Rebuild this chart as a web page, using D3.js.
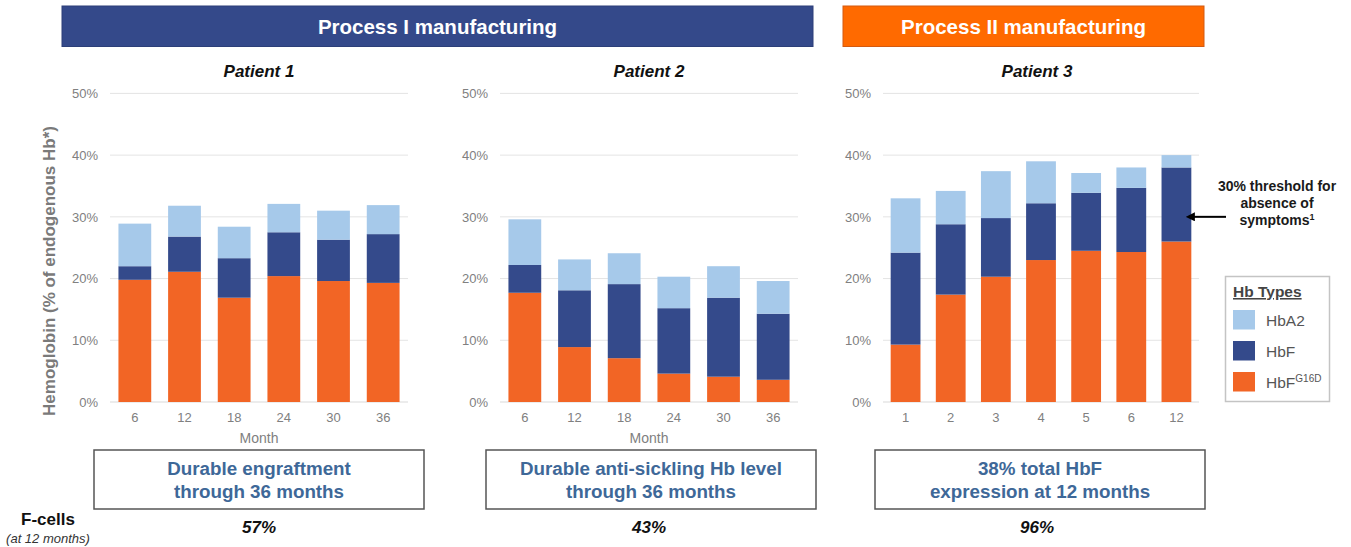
<!DOCTYPE html>
<html>
<head>
<meta charset="utf-8">
<script src="https://cdn.jsdelivr.net/npm/d3@7"></script>
<style>
  html, body { margin: 0; padding: 0; background: #ffffff; }
  svg { display: block; font-family: "Liberation Sans", Arial, Helvetica, sans-serif; }
</style>
</head>
<body>
<svg id="chart" width="1351" height="547"></svg>
<script>
// Hemoglobin composition (% of endogenous Hb) by month, per patient
const p1Months = ["6", "12", "18", "24", "30", "36"];
const p1HbFG16D = [19.8, 21.1, 16.9, 20.4, 19.6, 19.3];
const p1HbF     = [2.2, 5.7, 6.4, 7.1, 6.7, 7.9];
const p1HbA2    = [6.9, 5.0, 5.1, 4.6, 4.7, 4.7];

const p2Months = ["6", "12", "18", "24", "30", "36"];
const p2HbFG16D = [17.7, 8.9, 7.1, 4.6, 4.1, 3.6];
const p2HbF     = [4.5, 9.2, 12.0, 10.6, 12.8, 10.7];
const p2HbA2    = [7.4, 5.0, 5.0, 5.1, 5.1, 5.3];

const p3Months = ["1", "2", "3", "4", "5", "6", "12"];
const p3HbFG16D = [9.3, 17.4, 20.3, 23.0, 24.5, 24.3, 26.0];
const p3HbF     = [14.9, 11.4, 9.5, 9.2, 9.4, 10.4, 12.0];
const p3HbA2    = [8.8, 5.4, 7.6, 6.8, 3.2, 3.3, 2.0];

const yTicks = [0, 10, 20, 30, 40, 50];
const hbTypes = ["HbFG16D", "HbF", "HbA2"];
const patientTitles = ["Patient 1", "Patient 2", "Patient 3"];
const summaryLines = [
  ["Durable engraftment", "through 36 months"],
  ["Durable anti-sickling Hb level", "through 36 months"],
  ["38% total HbF", "expression at 12 months"]
];
const fCells = ["57%", "43%", "96%"];
const thresholdValue = 30;

const colors = { HbFG16D: "#f26525", HbF: "#344a8b", HbA2: "#a6c9ea" };
const tickGray = "#808080";

const svg = d3.select("#chart");

// Section headers
const headers = [
  { text: "Process I manufacturing", x0: 62, x1: 813, fill: "#34498a", stroke: "#2c3f78" },
  { text: "Process II manufacturing", x0: 843, x1: 1204, fill: "#ff6a00", stroke: "#d35a10" }
];
headers.forEach(h => {
  svg.append("rect").attr("x", h.x0).attr("y", 6).attr("width", h.x1 - h.x0).attr("height", 40.5)
    .attr("fill", h.fill).attr("stroke", h.stroke).attr("stroke-width", 1);
  svg.append("text").attr("x", (h.x0 + h.x1) / 2).attr("y", 34)
    .attr("text-anchor", "middle").attr("fill", "#ffffff")
    .attr("font-weight", "bold").attr("font-size", "20.5px").text(h.text);
});

const y = d3.scaleLinear().domain([0, 50]).range([402, 93.4]);

const panels = [
  { months: p1Months, vals: [p1HbFG16D, p1HbF, p1HbA2], x0: 110, x1: 408, titleX: 259, showMonth: true },
  { months: p2Months, vals: [p2HbFG16D, p2HbF, p2HbA2], x0: 500, x1: 798, titleX: 649, showMonth: true },
  { months: p3Months, vals: [p3HbFG16D, p3HbF, p3HbA2], x0: 883, x1: 1199, titleX: 1037, showMonth: false }
];

panels.forEach((p, i) => {
  const g = svg.append("g");
  const x = d3.scaleBand().domain(p.months).range([p.x0, p.x1])
    .paddingInner(0.34).paddingOuter(0.17);

  // gridlines
  g.selectAll("line.grid").data(yTicks).join("line")
    .attr("x1", p.x0).attr("x2", p.x1)
    .attr("y1", d => y(d)).attr("y2", d => y(d))
    .attr("stroke", d => d === 0 ? "#d9d9d9" : "#e4e4e4").attr("stroke-width", 1);

  // y tick labels
  const yAxis = d3.axisLeft(y).tickValues(yTicks).tickFormat(d => d + "%").tickSize(0).tickPadding(12);
  const ya = g.append("g").attr("transform", `translate(${p.x0},0)`).call(yAxis);
  ya.select(".domain").remove();
  ya.selectAll("text").attr("fill", tickGray).attr("font-size", "13px")
    .attr("font-family", "Liberation Sans, Arial, sans-serif");

  // x tick labels
  const xAxis = d3.axisBottom(x).tickSize(0).tickPadding(11);
  const xa = g.append("g").attr("transform", `translate(0,${y(0)})`).call(xAxis);
  xa.select(".domain").remove();
  xa.selectAll("text").attr("fill", tickGray).attr("font-size", "13px")
    .attr("font-family", "Liberation Sans, Arial, sans-serif");

  // stacked bars
  const rows = p.months.map((m, j) => ({ month: m, HbFG16D: p.vals[0][j], HbF: p.vals[1][j], HbA2: p.vals[2][j] }));
  const series = d3.stack().keys(hbTypes)(rows);
  g.selectAll("g.layer").data(series).join("g")
    .attr("fill", d => colors[d.key])
    .selectAll("rect").data(d => d).join("rect")
    .attr("x", d => x(d.data.month))
    .attr("width", x.bandwidth())
    .attr("y", d => y(d[1]))
    .attr("height", d => y(d[0]) - y(d[1]));

  // panel title
  svg.append("text").attr("x", p.titleX).attr("y", 77).attr("text-anchor", "middle")
    .attr("font-weight", "bold").attr("font-style", "italic").attr("font-size", "17px")
    .attr("fill", "#111").text(patientTitles[i]);

  if (p.showMonth) {
    svg.append("text").attr("x", (p.x0 + p.x1) / 2).attr("y", 443).attr("text-anchor", "middle")
      .attr("font-size", "14px").attr("fill", tickGray).text("Month");
  }

  // summary box
  const bx0 = [94, 486, 875][i], bw = 330;
  svg.append("rect").attr("x", bx0).attr("y", 450).attr("width", bw).attr("height", 59)
    .attr("fill", "#fff").attr("stroke", "#555").attr("stroke-width", 1.5);
  summaryLines[i].forEach((t, k) => {
    svg.append("text").attr("x", bx0 + bw / 2).attr("y", 475 + k * 22.5).attr("text-anchor", "middle")
      .attr("font-weight", "bold").attr("font-size", "18.8px").attr("fill", "#3e6898").text(t);
  });

  // F-cell value
  svg.append("text").attr("x", p.titleX).attr("y", 533).attr("text-anchor", "middle")
    .attr("font-weight", "bold").attr("font-style", "italic").attr("font-size", "17px")
    .attr("fill", "#111").text(fCells[i]);
});

// Y-axis title
svg.append("text").attr("transform", `translate(55,271) rotate(-90)`).attr("text-anchor", "middle")
  .attr("font-weight", "bold").attr("font-size", "17px").attr("fill", "#7a7a7a")
  .text("Hemoglobin (% of endogenous Hb*)");

// F-cells row label
svg.append("text").attr("x", 48).attr("y", 525).attr("text-anchor", "middle")
  .attr("font-weight", "bold").attr("font-size", "17px").attr("fill", "#111").text("F-cells");
svg.append("text").attr("x", 48).attr("y", 543).attr("text-anchor", "middle")
  .attr("font-style", "italic").attr("font-size", "13px").attr("fill", "#333").text("(at 12 months)");

// Threshold annotation with arrow
const defs = svg.append("defs");
defs.append("marker").attr("id", "arrowHead").attr("viewBox", "0 0 10 10")
  .attr("refX", 1).attr("refY", 5).attr("markerWidth", 4.5).attr("markerHeight", 4.5)
  .attr("orient", "auto-start-reverse")
  .append("path").attr("d", "M0,0 L10,5 L0,10 z").attr("fill", "#000");
svg.append("line").attr("x1", 1226).attr("x2", 1194)
  .attr("y1", y(thresholdValue)).attr("y2", y(thresholdValue))
  .attr("stroke", "#000").attr("stroke-width", 2).attr("marker-end", "url(#arrowHead)");
const ann = svg.append("text").attr("text-anchor", "middle").attr("font-weight", "bold")
  .attr("font-size", "14px").attr("fill", "#1a1a1a");
ann.append("tspan").attr("x", 1277).attr("y", 191).text("30% threshold for");
ann.append("tspan").attr("x", 1277).attr("y", 208).text("absence of");
const l3 = ann.append("tspan").attr("x", 1277).attr("y", 225);
l3.append("tspan").text("symptoms");
l3.append("tspan").attr("font-size", "9px").attr("dy", -5).text("1");

// Legend
const lg = svg.append("g");
lg.append("rect").attr("x", 1225.5).attr("y", 276.5).attr("width", 104).attr("height", 125)
  .attr("fill", "#fff").attr("stroke", "#c4c4c4").attr("stroke-width", 1.5);
lg.append("text").attr("x", 1233).attr("y", 297).attr("font-weight", "bold").attr("font-size", "15.5px")
  .attr("fill", "#444").attr("text-decoration", "underline").text("Hb Types");
const legendItems = ["HbA2", "HbF", "HbFG16D"];
legendItems.forEach((k, i) => {
  const yy = 310 + i * 31;
  lg.append("rect").attr("x", 1233).attr("y", yy).attr("width", 22).attr("height", 19.5).attr("fill", colors[k]);
  const t = lg.append("text").attr("x", 1266).attr("y", yy + 16).attr("font-size", "15.5px").attr("fill", "#555");
  if (k === "HbFG16D") {
    t.append("tspan").text("HbF");
    t.append("tspan").attr("font-size", "10px").attr("dy", -6).text("G16D");
  } else {
    t.text(k);
  }
});
</script>
</body>
</html>
